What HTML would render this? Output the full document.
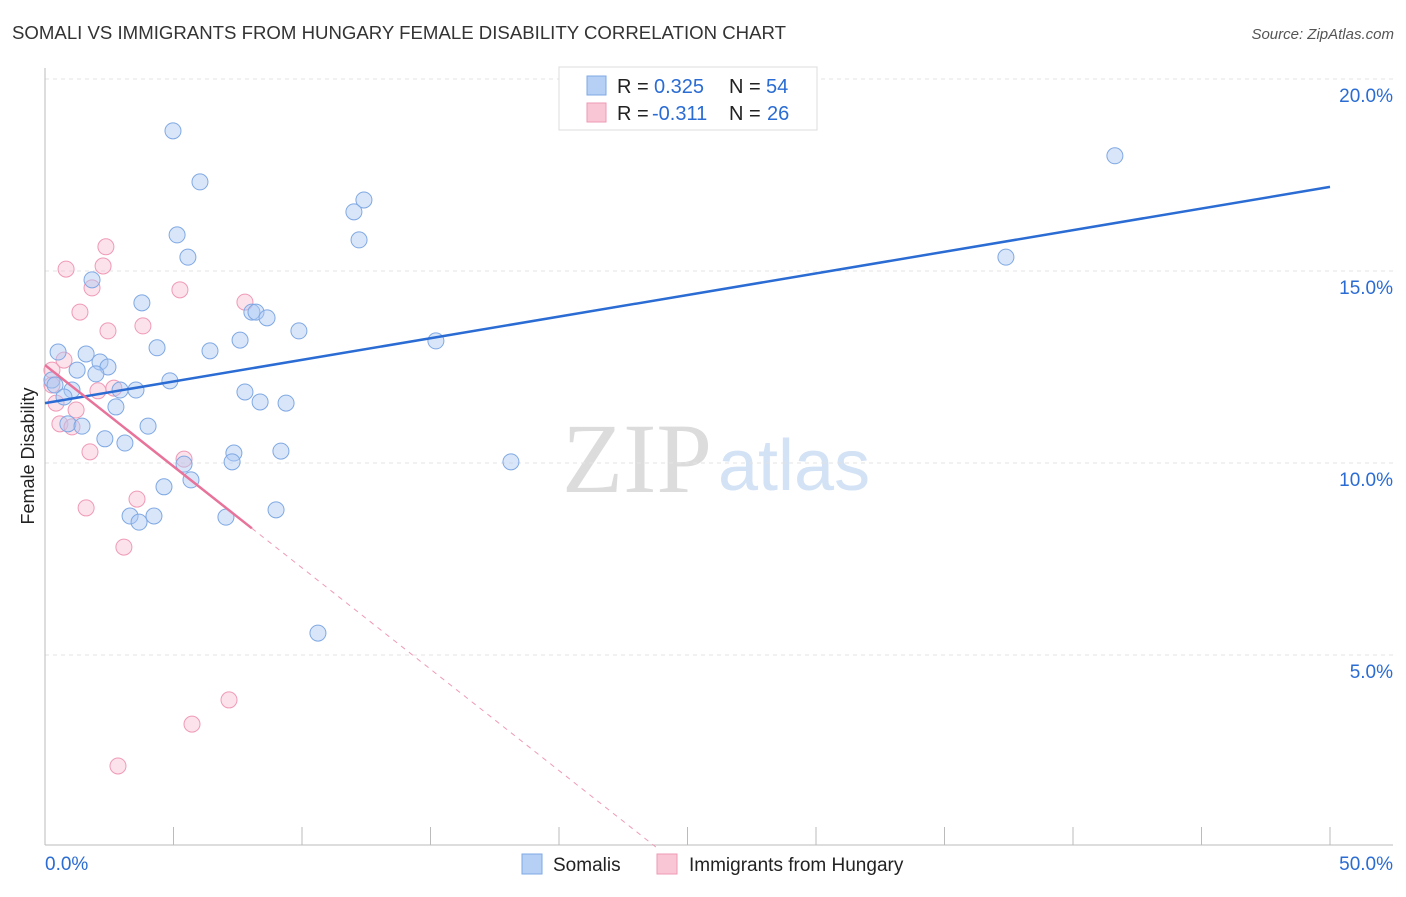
<!DOCTYPE html>
<html><head><meta charset="utf-8"><style>
body{margin:0;background:#fff;font-family:"Liberation Sans",sans-serif}
svg text{font-family:"Liberation Sans",sans-serif}
svg text.serif{font-family:"Liberation Serif",serif}
</style></head><body>
<svg id="chart" width="1406" height="892">
<text x="12" y="39" font-size="18" fill="#333" textLength="774" lengthAdjust="spacingAndGlyphs">SOMALI VS IMMIGRANTS FROM HUNGARY FEMALE DISABILITY CORRELATION CHART</text>
<text x="1394" y="39" font-size="15" fill="#555" font-style="italic" text-anchor="end">Source: ZipAtlas.com</text>
<text x="34" y="456" font-size="18" fill="#222" text-anchor="middle" transform="rotate(-90 34 456)">Female Disability</text>
<g><text class="serif" x="712" y="492" font-size="100" fill="#dcdcdc" text-anchor="end">ZIP</text><text x="718" y="490" font-size="72" fill="#d3e2f5">atlas</text></g>
<g id="grid"></g><g id="marks"></g>
<g>
<rect x="559" y="67" width="258" height="63" fill="#fff" stroke="#ddd"/>
<rect x="587" y="76" width="19" height="19" fill="#b5cff5" stroke="#7fa8e3"/>
<rect x="587" y="103" width="19" height="19" fill="#f9c6d6" stroke="#ef99b4"/>
<text x="617" y="93" font-size="20" fill="#222">R = </text><text x="654" y="93" font-size="20" fill="#2a6cd3">0.325</text>
<text x="729" y="93" font-size="20" fill="#222">N = </text><text x="766" y="93" font-size="20" fill="#2a6cd3">54</text>
<text x="617" y="120" font-size="20" fill="#222">R = </text><text x="652" y="120" font-size="20" fill="#2a6cd3">-0.311</text>
<text x="729" y="120" font-size="20" fill="#222">N = </text><text x="767" y="120" font-size="20" fill="#2a6cd3">26</text>
</g>
<g>
<rect x="522" y="854" width="20" height="20" fill="#b5cff5" stroke="#7fa8e3"/>
<text x="553" y="871" font-size="19" fill="#222">Somalis</text>
<rect x="657" y="854" width="20" height="20" fill="#f9c6d6" stroke="#ef99b4"/>
<text x="689" y="871" font-size="19" fill="#222">Immigrants from Hungary</text>
</g>
</svg>
<script>
const yTicks=[5,10,15,20];
const yTickLabels=["5.0%","10.0%","15.0%","20.0%"];
const xTickLabels=["0.0%","50.0%"];
const somaliX=[4.98,6.03,5.14,5.56,3.77,1.83,4.36,6.42,7.59,8.05,8.21,8.64,9.88,12.41,12.02,12.22,15.21,41.63,37.39,18.13,0.51,1.6,2.14,2.45,1.25,1.98,0.27,0.39,1.05,0.74,2.92,3.54,4.86,2.76,7.78,8.37,9.38,0.89,1.44,4.01,2.33,3.11,7.35,7.28,9.18,5.41,5.68,4.63,3.31,3.66,4.24,7.04,8.99,10.62];
const somaliY=[18.65,17.32,15.94,15.36,14.17,14.77,13.0,12.92,13.2,13.93,13.93,13.78,13.44,16.85,16.54,15.81,13.18,18.0,15.36,10.03,12.89,12.84,12.63,12.5,12.42,12.32,12.16,12.03,11.9,11.72,11.9,11.9,12.14,11.46,11.85,11.59,11.56,11.02,10.96,10.96,10.63,10.52,10.26,10.03,10.31,9.97,9.56,9.38,8.62,8.46,8.62,8.59,8.78,5.57];
const hungX=[0.27,0.82,2.26,2.37,1.83,1.36,2.45,3.81,5.25,7.78,0.74,0.27,0.43,1.21,0.58,1.05,2.06,2.68,1.75,5.41,3.58,1.6,3.07,7.16,5.72,2.84];
const hungY=[12.42,15.05,15.13,15.63,14.56,13.93,13.44,13.57,14.51,14.19,12.68,12.03,11.56,11.38,11.02,10.94,11.88,11.95,10.29,10.1,9.06,8.83,7.81,3.83,3.2,2.11];
const somaliTrend=[11.56,17.19];
const hungTrend=[12.55,-0.528];
const hungSolidEnd=8.05;
const X=v=>45+v*25.7, Y=v=>847-v*38.4;
const NS="http://www.w3.org/2000/svg";
function mk(p,t,a){const e=document.createElementNS(NS,t);for(const k in a)e.setAttribute(k,a[k]);p.appendChild(e);return e;}
const g=document.getElementById('grid'),m=document.getElementById('marks');
yTicks.forEach((t,i)=>{
 const l=mk(g,'line',{x1:45,x2:1393,y1:Y(t),y2:Y(t),stroke:'#e3e3e3','stroke-dasharray':'4,4'});
 
 
 const tx=mk(g,'text',{x:1393,y:Y(t)+23,'font-size':19,fill:'#2a6cd3','text-anchor':'end'});tx.textContent=yTickLabels[i];
 
 
});
const ax=mk(g,'line',{x1:45,x2:1393,y1:845,y2:845,stroke:'#bbb'});


const ay=mk(g,'line',{x1:45,x2:45,y1:68,y2:845,stroke:'#bbb'});


for(let i=0;i<=10;i++){const t=mk(g,'line',{x1:X(i*5),x2:X(i*5),y1:827,y2:845,stroke:'#bbb'});
 
 }
[[0,'start',45],[50,'end',1393]].forEach((d,i)=>{const t=mk(g,'text',{x:d[2],y:870,'font-size':19,fill:'#2a6cd3','text-anchor':d[1]});t.textContent=xTickLabels[i];
 
 });
hungX.forEach((x,i)=>{const c=mk(m,'circle',{cx:X(x),cy:Y(hungY[i]),r:8,fill:'rgba(249,190,210,0.45)',stroke:'#ef9ab6','stroke-width':1});
 
 });
somaliX.forEach((x,i)=>{const c=mk(m,'circle',{cx:X(x),cy:Y(somaliY[i]),r:8,fill:'rgba(170,200,245,0.45)',stroke:'#7fa8e3','stroke-width':1});
 
 });
const bt=mk(m,'line',{x1:X(0),y1:Y(somaliTrend[0]),x2:X(50),y2:Y(somaliTrend[1]),stroke:'#2a6cd3','stroke-width':2.5});


const hy=x=>hungTrend[0]+hungTrend[1]*x;
const zeroX=-hungTrend[0]/hungTrend[1];
const pd=mk(m,'line',{x1:X(hungSolidEnd),y1:Y(hy(hungSolidEnd)),x2:X(zeroX),y2:Y(0),stroke:'#ef9ab6','stroke-width':1,'stroke-dasharray':'5,5'});


const ps=mk(m,'line',{x1:X(0),y1:Y(hy(0)),x2:X(hungSolidEnd),y2:Y(hy(hungSolidEnd)),stroke:'#e8739a','stroke-width':2.5});


</script>
</body></html>
